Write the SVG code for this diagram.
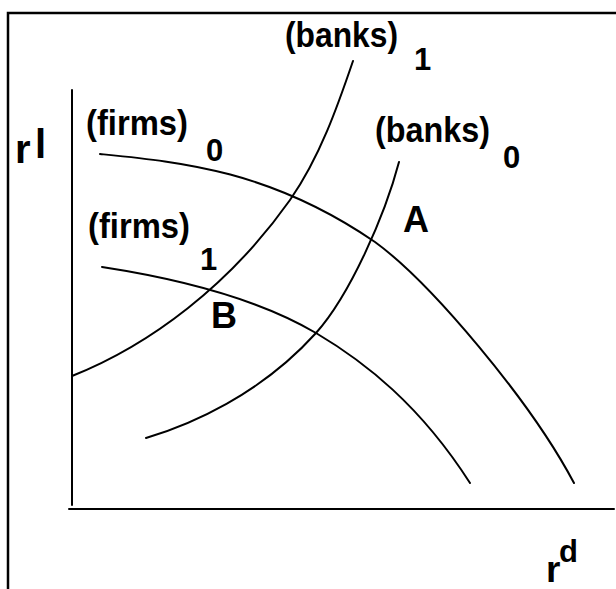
<svg xmlns="http://www.w3.org/2000/svg" width="616" height="589" viewBox="0 0 616 589">
<style>
.ln{fill:none;stroke:#000;stroke-width:2;stroke-linecap:round}
.fr{fill:none;stroke:#000;stroke-width:2.5}
.t{font-family:"Liberation Sans",Arial,sans-serif;font-weight:bold;fill:#000}
.lb{font-size:35px}
.dg{font-size:31px}
</style>
<rect width="616" height="589" fill="#fff"/>
<g id="frame">
<path class="fr" d="M8,589 V13 H616"/>
</g>
<g id="axes">
<path class="ln" d="M72,90 V505"/>
<path class="ln" d="M69,509 H614"/>
<text class="t" x="15" y="163" font-size="40">r</text>
<text class="t" x="35" y="158" font-size="40">l</text>
<text class="t" x="546" y="582" font-size="37">r</text>
<text class="t" x="559" y="562" font-size="31">d</text>
</g>
<g id="connectors">
<path id="firms0" class="ln" d="M100,154 C180,162 270,170 375,242 C430,282 530,400 574,483"/>
<path id="firms1" class="ln" d="M102,267 C180,279 260,300 316,333 C365,362 420,405 470,483"/>
<path id="banks1" class="ln" d="M72,376 C150,345 230,285 290,200 C320,157 338,105 353,61"/>
<path id="banks0" class="ln" d="M146,438 C190,425 260,395 316,333 C350,295 385,215 399,162"/>
</g>
<g id="label-firms0">
<text class="t lb" x="86" y="135" textLength="102" lengthAdjust="spacingAndGlyphs">(firms)</text>
<text class="t dg" x="206" y="161">0</text>
</g>
<g id="label-firms1">
<text class="t lb" x="88" y="238" textLength="102" lengthAdjust="spacingAndGlyphs">(firms)</text>
<text class="t dg" x="200" y="270">1</text>
</g>
<g id="label-banks1">
<text class="t lb" x="285" y="47" textLength="113" lengthAdjust="spacingAndGlyphs">(banks)</text>
<text class="t dg" x="414" y="70">1</text>
</g>
<g id="label-banks0">
<text class="t lb" x="375" y="142" textLength="115" lengthAdjust="spacingAndGlyphs">(banks)</text>
<text class="t dg" x="503" y="168">0</text>
</g>
<g id="point-A"><text class="t" x="403" y="232" font-size="36">A</text></g>
<g id="point-B"><text class="t" x="211" y="328" font-size="36">B</text></g>
</svg>
